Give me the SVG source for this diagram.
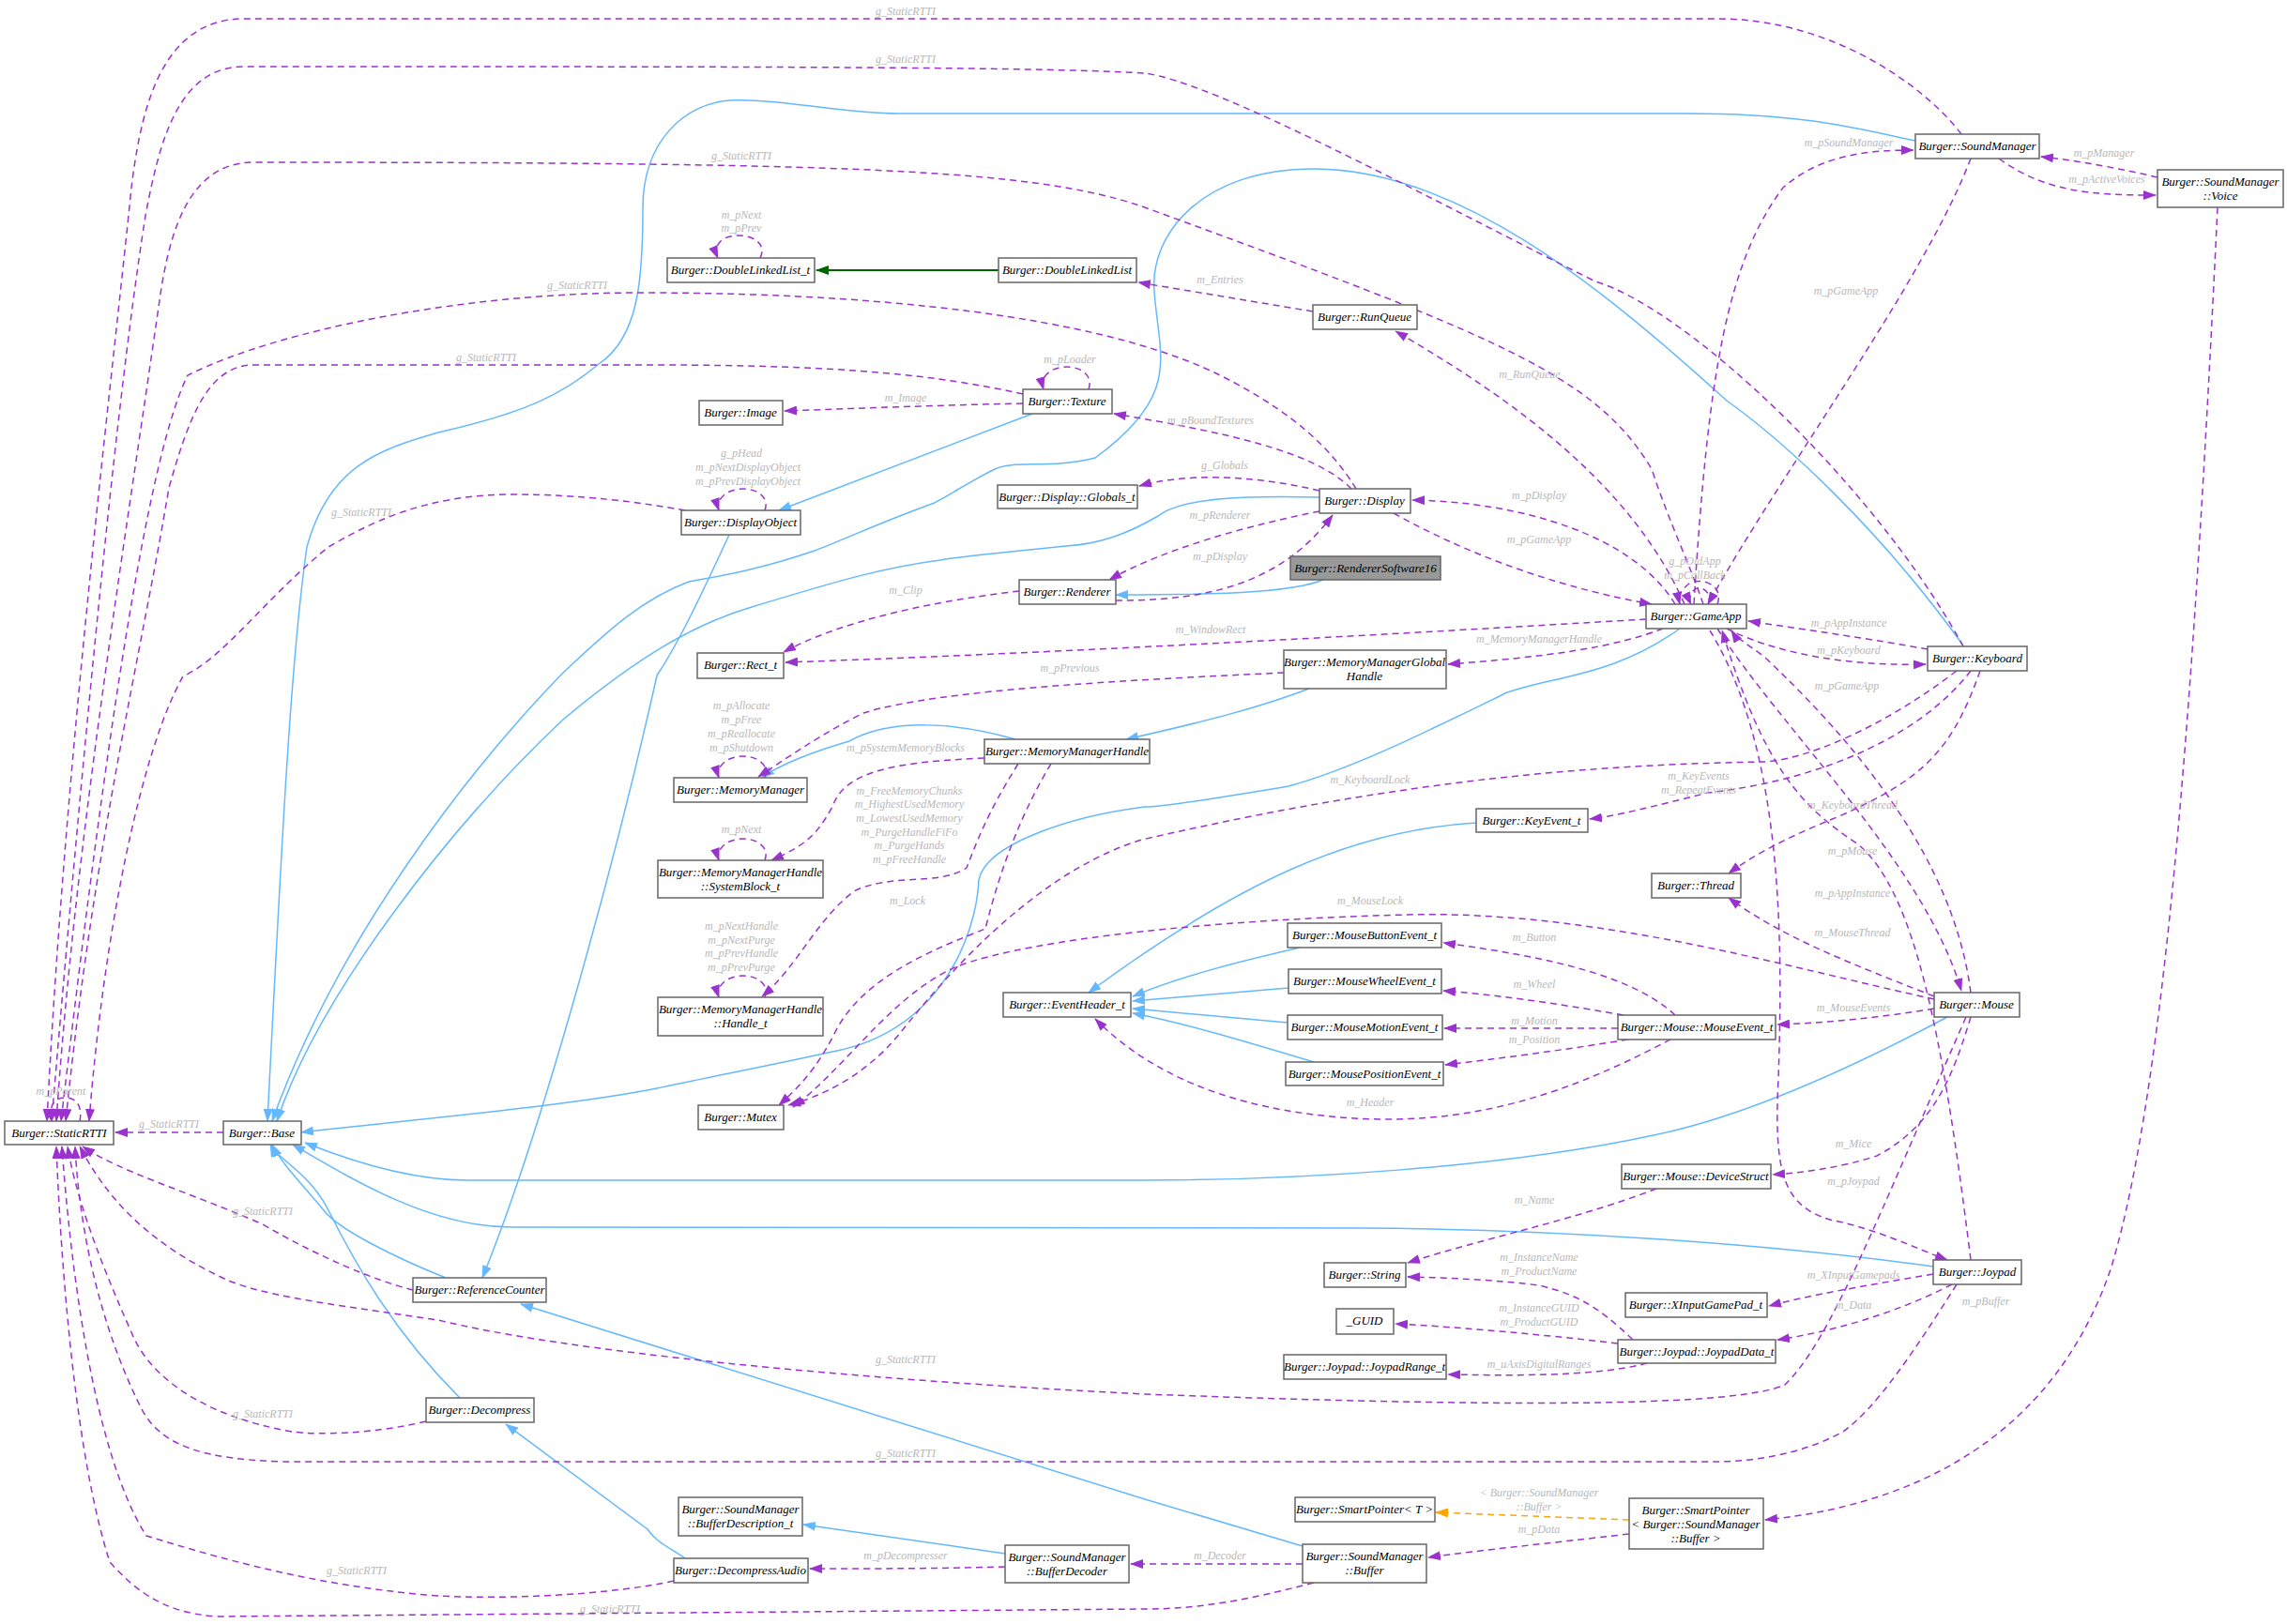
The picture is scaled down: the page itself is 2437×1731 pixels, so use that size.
<svg xmlns="http://www.w3.org/2000/svg" width="2437" height="1731" viewBox="0 0 2437 1731">
<style>
.n rect{fill:#fff;stroke:#666;stroke-width:1.5}
.n.g rect{fill:#999}
.n text{font-family:"Liberation Serif",serif;font-style:italic;font-size:13px;text-anchor:middle;fill:#000}
.l{font-family:"Liberation Serif",serif;font-style:italic;font-size:12px;text-anchor:middle;fill:#b8b8b8}
.p{fill:none;stroke:#9a32cd;stroke-width:1.5;stroke-dasharray:7,5;marker-end:url(#ap)}
.b{fill:none;stroke:#63b8ff;stroke-width:1.5;marker-end:url(#ab)}
.g2{fill:none;stroke:#006400;stroke-width:2;marker-end:url(#ag)}
.o{fill:none;stroke:#ffa500;stroke-width:1.5;stroke-dasharray:7,5;marker-end:url(#ao)}
</style>
<defs>
<marker id="ap" markerWidth="14" markerHeight="10" refX="13" refY="5" orient="auto" markerUnits="userSpaceOnUse"><path d="M0,0L14,5L0,10z" fill="#9a32cd"/></marker>
<marker id="ab" markerWidth="14" markerHeight="10" refX="13" refY="5" orient="auto" markerUnits="userSpaceOnUse"><path d="M0,0L14,5L0,10z" fill="#63b8ff"/></marker>
<marker id="ag" markerWidth="14" markerHeight="10" refX="13" refY="5" orient="auto" markerUnits="userSpaceOnUse"><path d="M0,0L14,5L0,10z" fill="#006400"/></marker>
<marker id="ao" markerWidth="14" markerHeight="10" refX="13" refY="5" orient="auto" markerUnits="userSpaceOnUse"><path d="M0,0L14,5L0,10z" fill="#ffa500"/></marker>
</defs>
<rect width="2437" height="1731" fill="#fff"/>
<g id="edges">
<path class="g2" d="M1064,288L870,288"/>
<path class="b" d="M2041,150C1990,140 1930,121 1800,121L957,121C900,121 830,105 778,107C730,110 685,150 685,222C685,300 680,360 638,388C600,420 560,440 467,461C400,480 350,499 327,583C310,700 300,900 285,1195"/>
<path class="b" d="M2092,688C2000,560 1900,470 1840,427C1700,300 1550,180 1400,180C1280,180 1225,250 1230,311C1235,380 1260,420 1167,488C1120,500 1080,490 1060,500C1030,515 1000,535 993,537C930,560 900,575 868,587C800,610 760,615 734,620C680,640 640,680 600,717C500,820 360,1000 290,1195"/>
<path class="b" d="M1406,530C1330,528 1260,530 1234,550C1200,570 1170,580 1136,582C1060,590 1030,592 1002,597C940,605 890,620 801,647C740,665 680,700 600,767C480,880 340,1060 295,1195"/>
<path class="b" d="M1790,670C1720,720 1660,720 1606,738C1520,780 1440,820 1373,838C1300,850 1240,860 1220,860C1140,870 1050,900 1043,938C1040,1000 1000,1100 887,1121C800,1140 750,1149 700,1160C600,1180 420,1195 321,1207"/>
<path class="b" d="M2075,1084C1970,1140 1860,1190 1762,1210C1600,1245 1380,1258 1217,1258L498,1258C440,1258 380,1240 325,1218"/>
<path class="b" d="M2060,1350C1880,1325 1650,1310 1450,1309L545,1308C460,1308 380,1260 312,1220"/>
<path class="b" d="M475,1362C420,1340 360,1310 345,1290C320,1260 300,1240 290,1220"/>
<path class="b" d="M490,1490C420,1420 380,1350 350,1290C330,1250 295,1235 288,1220"/>
<path class="b" d="M777,570C740,650 720,690 700,720C660,900 580,1200 514,1362"/>
<path class="b" d="M1100,441L830,544"/>
<path class="b" d="M1410,618C1380,630 1320,634 1189,634"/>
<path class="b" d="M1395,734C1340,755 1280,770 1200,788"/>
<path class="b" d="M1082,788C1020,770 950,765 905,790C870,800 830,815 812,829"/>
<path class="b" d="M1388,1648L1220,1598L555,1390"/>
<path class="b" d="M730,1661C715,1650 700,1645 690,1630L539,1518"/>
<path class="b" d="M1071,1656L856,1625"/>
<path class="b" d="M1573,877C1440,885 1320,940 1160,1058"/>
<path class="b" d="M1385,1010C1320,1025 1260,1040 1207,1062"/>
<path class="b" d="M1373,1053L1207,1067"/>
<path class="b" d="M1372,1090L1207,1075"/>
<path class="b" d="M1400,1132C1320,1108 1260,1090 1207,1080"/>
<path class="o" d="M1736,1620L1530,1612"/>
<path class="p" d="M2090,143C2050,90 1950,20 1830,20L260,20C170,20 150,120 140,200C120,400 70,800 50,1195"/>
<path class="p" d="M2092,689C2000,520 1800,330 1700,300C1500,200 1300,90 1220,78C1100,71 800,71 260,71C190,71 170,150 155,230C120,450 80,900 55,1195"/>
<path class="p" d="M1815,644C1800,600 1780,560 1760,500C1700,400 1600,360 1217,220C1100,180 900,173 270,173C200,173 180,250 170,320C130,600 80,900 60,1195"/>
<path class="p" d="M1445,521C1420,480 1380,440 1300,400C1200,350 1000,312 680,312C500,312 300,350 200,400C150,500 100,900 65,1195"/>
<path class="p" d="M1090,420C1000,400 900,389 700,389L270,389C220,389 200,450 180,520C150,700 100,900 70,1195"/>
<path class="p" d="M730,544C680,535 620,527 545,527C450,527 390,560 350,583C280,640 240,700 195,721C150,800 110,1000 95,1195"/>
<path class="p" d="M238,1207L123,1207"/>
<path class="p" d="M85,1195C88,1180 82,1170 70,1170C56,1170 52,1180 55,1195"/>
<path class="p" d="M440,1375C400,1365 340,1340 280,1305C200,1270 130,1250 88,1222"/>
<path class="p" d="M2095,1084C2000,1300 1950,1430 1902,1476C1850,1500 1600,1500 1220,1486C900,1470 600,1440 467,1407C350,1390 270,1380 233,1360C150,1320 110,1270 85,1222"/>
<path class="p" d="M2085,1369C2040,1440 2000,1500 1964,1526C1920,1550 1870,1558 1824,1558L1217,1558L300,1558C220,1555 171,1543 150,1500C110,1420 85,1320 80,1222"/>
<path class="p" d="M454,1515C400,1528 340,1530 311,1526C220,1510 160,1470 140,1420C100,1330 80,1270 72,1222"/>
<path class="p" d="M718,1685C650,1700 540,1705 467,1701C320,1690 200,1650 156,1637C100,1550 75,1350 66,1222"/>
<path class="p" d="M1400,1687C1330,1705 1280,1715 1220,1715L233,1723C170,1720 140,1690 117,1665C80,1550 65,1350 60,1222"/>
<path class="p" d="M810,275C820,255 790,245 770,255C762,262 762,268 765,275"/>
<path class="p" d="M815,544C822,525 795,515 775,525C765,532 764,538 766,544"/>
<path class="p" d="M1160,415C1167,395 1140,385 1120,395C1110,402 1110,408 1112,415"/>
<path class="p" d="M815,829C822,810 795,800 775,810C765,817 764,823 766,829"/>
<path class="p" d="M815,917C822,898 795,888 775,898C765,905 764,911 766,917"/>
<path class="p" d="M815,1063C822,1044 795,1034 775,1044C765,1051 764,1057 766,1063"/>
<path class="p" d="M1830,644C1838,622 1810,615 1800,622C1790,630 1788,636 1790,644"/>
<path class="p" d="M1820,644C1826,630 1810,622 1804,630C1800,635 1800,640 1802,644"/>
<path class="p" d="M1090,430C1000,432 920,435 836,438"/>
<path class="p" d="M1440,521C1400,480 1300,460 1187,441"/>
<path class="p" d="M1406,523C1330,505 1260,505 1214,518"/>
<path class="p" d="M1406,545C1330,560 1240,585 1182,618"/>
<path class="p" d="M1189,640C1270,640 1360,630 1420,549"/>
<path class="p" d="M1485,547C1580,600 1680,630 1760,644"/>
<path class="p" d="M1785,644C1740,570 1620,535 1505,533"/>
<path class="p" d="M1795,644C1740,520 1620,430 1487,353"/>
<path class="p" d="M1399,332L1213,301"/>
<path class="p" d="M1805,644C1820,400 1840,280 1900,200C1940,165 1990,160 2039,160"/>
<path class="p" d="M2100,169C2050,300 1900,500 1820,644"/>
<path class="p" d="M2130,169C2180,205 2230,208 2297,208"/>
<path class="p" d="M2299,189C2260,180 2220,172 2175,167"/>
<path class="p" d="M2363,221C2340,700 2310,1150 2250,1350C2200,1500 2080,1600 1881,1620"/>
<path class="p" d="M1754,660C1500,675 1150,695 837,706"/>
<path class="p" d="M1086,630C1000,640 900,660 835,695"/>
<path class="p" d="M1772,670C1720,690 1650,700 1543,708"/>
<path class="p" d="M1368,717C1200,725 1000,735 920,760C880,780 850,800 808,828"/>
<path class="p" d="M1049,808C960,812 900,820 887,860C870,890 860,900 822,917"/>
<path class="p" d="M1085,814C1050,870 1040,900 1030,925C1000,945 950,930 910,950C870,980 850,1030 812,1062"/>
<path class="p" d="M1120,814C1080,880 1060,950 1050,990C1000,1010 920,1040 890,1100C870,1140 850,1160 830,1178"/>
<path class="p" d="M2085,715C2000,780 1920,810 1880,812C1700,815 1500,830 1217,895C1100,930 1000,1050 960,1100C920,1150 870,1170 840,1178"/>
<path class="p" d="M2061,1065C1900,1030 1700,970 1500,975C1300,980 1100,1000 1020,1030C950,1060 900,1140 845,1180"/>
<path class="p" d="M1840,670C1900,700 1980,710 2052,708"/>
<path class="p" d="M2054,692C2000,682 1930,672 1863,662"/>
<path class="p" d="M2100,715C2050,780 1950,830 1820,845C1760,860 1720,870 1694,873"/>
<path class="p" d="M2110,715C2080,800 2050,830 1960,870C1910,890 1870,910 1842,931"/>
<path class="p" d="M1830,670C1900,780 2050,920 2090,1056"/>
<path class="p" d="M2100,1058C2090,980 2050,860 1880,700C1860,685 1850,680 1845,672"/>
<path class="p" d="M2100,1343C2070,1100 2040,950 1980,900C1920,860 1880,820 1835,672"/>
<path class="p" d="M1822,672C1900,800 1900,1000 1895,1150C1890,1250 1900,1285 1950,1300C2000,1310 2040,1330 2075,1343"/>
<path class="p" d="M2061,1062C1980,1030 1900,1000 1842,957"/>
<path class="p" d="M2061,1075C2000,1085 1950,1090 1894,1092"/>
<path class="p" d="M1785,1082C1740,1040 1650,1020 1538,1005"/>
<path class="p" d="M1730,1082C1650,1068 1590,1060 1538,1056"/>
<path class="p" d="M1724,1096L1539,1096"/>
<path class="p" d="M1735,1108C1660,1120 1600,1128 1540,1135"/>
<path class="p" d="M1780,1108C1700,1150 1600,1195 1470,1193C1330,1190 1230,1150 1167,1086"/>
<path class="p" d="M2100,1084C2080,1150 2060,1200 2000,1232C1960,1245 1920,1250 1889,1252"/>
<path class="p" d="M1765,1267C1680,1300 1580,1320 1500,1346"/>
<path class="p" d="M2060,1358C1990,1370 1930,1380 1885,1392"/>
<path class="p" d="M2080,1369C2020,1400 1950,1420 1894,1428"/>
<path class="p" d="M1740,1428C1700,1390 1680,1380 1640,1370C1600,1365 1550,1362 1500,1361"/>
<path class="p" d="M1724,1432C1640,1422 1560,1415 1487,1411"/>
<path class="p" d="M1755,1453C1700,1468 1600,1466 1543,1465"/>
<path class="p" d="M1736,1635C1650,1645 1580,1652 1522,1660"/>
<path class="p" d="M1388,1667L1205,1667"/>
<path class="p" d="M1071,1670C1000,1672 940,1672 863,1672"/>
</g>
<g id="labels">
<text class="l" x="965" y="16">g_StaticRTTI</text>
<text class="l" x="965" y="67">g_StaticRTTI</text>
<text class="l" x="790" y="170">g_StaticRTTI</text>
<text class="l" x="615" y="308">g_StaticRTTI</text>
<text class="l" x="518" y="385">g_StaticRTTI</text>
<text class="l" x="385" y="550">g_StaticRTTI</text>
<text class="l" x="180" y="1202">g_StaticRTTI</text>
<text class="l" x="65" y="1167">m_pParent</text>
<text class="l" x="280" y="1295">g_StaticRTTI</text>
<text class="l" x="965" y="1453">g_StaticRTTI</text>
<text class="l" x="965" y="1553">g_StaticRTTI</text>
<text class="l" x="280" y="1511">g_StaticRTTI</text>
<text class="l" x="380" y="1678">g_StaticRTTI</text>
<text class="l" x="650" y="1719">g_StaticRTTI</text>
<text class="l" x="790" y="233">m_pNext</text>
<text class="l" x="790" y="247">m_pPrev</text>
<text class="l" x="790" y="487">g_pHead</text>
<text class="l" x="797" y="502">m_pNextDisplayObject</text>
<text class="l" x="797" y="517">m_pPrevDisplayObject</text>
<text class="l" x="1140" y="387">m_pLoader</text>
<text class="l" x="965" y="428">m_Image</text>
<text class="l" x="1290" y="452">m_pBoundTextures</text>
<text class="l" x="1305" y="500">g_Globals</text>
<text class="l" x="1300" y="553">m_pRenderer</text>
<text class="l" x="1300" y="597">m_pDisplay</text>
<text class="l" x="1640" y="579">m_pGameApp</text>
<text class="l" x="1640" y="532">m_pDisplay</text>
<text class="l" x="1630" y="403">m_RunQueue</text>
<text class="l" x="1300" y="302">m_Entries</text>
<text class="l" x="1970" y="156">m_pSoundManager</text>
<text class="l" x="1967" y="314">m_pGameApp</text>
<text class="l" x="2245" y="195">m_pActiveVoices</text>
<text class="l" x="2242" y="167">m_pManager</text>
<text class="l" x="1806" y="602">g_pOldApp</text>
<text class="l" x="1806" y="617">m_pCallBack</text>
<text class="l" x="1290" y="675">m_WindowRect</text>
<text class="l" x="965" y="633">m_Clip</text>
<text class="l" x="1640" y="685">m_MemoryManagerHandle</text>
<text class="l" x="1140" y="716">m_pPrevious</text>
<text class="l" x="790" y="756">m_pAllocate</text>
<text class="l" x="790" y="771">m_pFree</text>
<text class="l" x="790" y="786">m_pReallocate</text>
<text class="l" x="790" y="801">m_pShutdown</text>
<text class="l" x="965" y="801">m_pSystemMemoryBlocks</text>
<text class="l" x="790" y="888">m_pNext</text>
<text class="l" x="969" y="847">m_FreeMemoryChunks</text>
<text class="l" x="969" y="861">m_HighestUsedMemory</text>
<text class="l" x="969" y="876">m_LowestUsedMemory</text>
<text class="l" x="969" y="891">m_PurgeHandleFiFo</text>
<text class="l" x="969" y="905">m_PurgeHands</text>
<text class="l" x="969" y="920">m_pFreeHandle</text>
<text class="l" x="967" y="964">m_Lock</text>
<text class="l" x="790" y="991">m_pNextHandle</text>
<text class="l" x="790" y="1006">m_pNextPurge</text>
<text class="l" x="790" y="1020">m_pPrevHandle</text>
<text class="l" x="790" y="1035">m_pPrevPurge</text>
<text class="l" x="1460" y="835">m_KeyboardLock</text>
<text class="l" x="1460" y="964">m_MouseLock</text>
<text class="l" x="1970" y="697">m_pKeyboard</text>
<text class="l" x="1970" y="668">m_pAppInstance</text>
<text class="l" x="1968" y="735">m_pGameApp</text>
<text class="l" x="1810" y="831">m_KeyEvents</text>
<text class="l" x="1810" y="846">m_RepeatEvents</text>
<text class="l" x="1974" y="862">m_KeyboardThread</text>
<text class="l" x="1974" y="911">m_pMouse</text>
<text class="l" x="1974" y="956">m_pAppInstance</text>
<text class="l" x="1974" y="998">m_MouseThread</text>
<text class="l" x="1975" y="1078">m_MouseEvents</text>
<text class="l" x="1635" y="1003">m_Button</text>
<text class="l" x="1635" y="1053">m_Wheel</text>
<text class="l" x="1635" y="1092">m_Motion</text>
<text class="l" x="1635" y="1112">m_Position</text>
<text class="l" x="1460" y="1179">m_Header</text>
<text class="l" x="1975" y="1223">m_Mice</text>
<text class="l" x="1635" y="1283">m_Name</text>
<text class="l" x="1975" y="1263">m_pJoypad</text>
<text class="l" x="1975" y="1363">m_XInputGamepads</text>
<text class="l" x="1975" y="1395">m_Data</text>
<text class="l" x="2116" y="1391">m_pBuffer</text>
<text class="l" x="1640" y="1344">m_InstanceName</text>
<text class="l" x="1640" y="1359">m_ProductName</text>
<text class="l" x="1640" y="1398">m_InstanceGUID</text>
<text class="l" x="1640" y="1413">m_ProductGUID</text>
<text class="l" x="1640" y="1458">m_uAxisDigitalRanges</text>
<text class="l" x="1640" y="1595">&lt; Burger::SoundManager</text>
<text class="l" x="1640" y="1610">::Buffer &gt;</text>
<text class="l" x="1640" y="1634">m_pData</text>
<text class="l" x="1300" y="1662">m_Decoder</text>
<text class="l" x="965" y="1662">m_pDecompresser</text>
</g>
<g id="n_StaticRTTI" class="n"><rect x="5" y="1195" width="116" height="25"/><text x="63" y="1212">Burger::StaticRTTI</text></g>
<g id="n_Base" class="n"><rect x="238" y="1195" width="83" height="25"/><text x="279" y="1212">Burger::Base</text></g>
<g id="n_DLL_t" class="n"><rect x="711" y="275" width="157" height="26"/><text x="789" y="292">Burger::DoubleLinkedList_t</text></g>
<g id="n_DLL" class="n"><rect x="1064" y="275" width="147" height="26"/><text x="1137" y="292">Burger::DoubleLinkedList</text></g>
<g id="n_Texture" class="n"><rect x="1090" y="415" width="95" height="26"/><text x="1137" y="432">Burger::Texture</text></g>
<g id="n_Image" class="n"><rect x="745" y="427" width="89" height="26"/><text x="789" y="444">Burger::Image</text></g>
<g id="n_Globals" class="n"><rect x="1063" y="517" width="149" height="25"/><text x="1137" y="534">Burger::Display::Globals_t</text></g>
<g id="n_DisplayObject" class="n"><rect x="726" y="544" width="127" height="26"/><text x="789" y="561">Burger::DisplayObject</text></g>
<g id="n_Renderer" class="n"><rect x="1086" y="618" width="103" height="26"/><text x="1137" y="635">Burger::Renderer</text></g>
<g id="n_Rect" class="n"><rect x="743" y="696" width="92" height="27"/><text x="789" y="713">Burger::Rect_t</text></g>
<g id="n_MemoryManager" class="n"><rect x="718" y="829" width="142" height="26"/><text x="789" y="846">Burger::MemoryManager</text></g>
<g id="n_MMH" class="n"><rect x="1049" y="788" width="176" height="26"/><text x="1137" y="805">Burger::MemoryManagerHandle</text></g>
<g id="n_SoundManager" class="n"><rect x="2041" y="143" width="132" height="26"/><text x="2107" y="160">Burger::SoundManager</text></g>
<g id="n_Voice" class="n"><rect x="2299" y="181" width="134" height="40"/><text x="2366" y="198">Burger::SoundManager</text><text x="2366" y="213">::Voice</text></g>
<g id="n_RunQueue" class="n"><rect x="1399" y="325" width="111" height="26"/><text x="1454" y="342">Burger::RunQueue</text></g>
<g id="n_Display" class="n"><rect x="1406" y="521" width="97" height="26"/><text x="1454" y="538">Burger::Display</text></g>
<g id="n_RendererSoftware16" class="n g"><rect x="1375" y="593" width="160" height="25"/><text x="1455" y="610">Burger::RendererSoftware16</text></g>
<g id="n_GameApp" class="n"><rect x="1754" y="644" width="107" height="26"/><text x="1807" y="661">Burger::GameApp</text></g>
<g id="n_MMGH" class="n"><rect x="1368" y="693" width="173" height="41"/><text x="1454" y="710">Burger::MemoryManagerGlobal</text><text x="1454" y="725">Handle</text></g>
<g id="n_Keyboard" class="n"><rect x="2054" y="689" width="106" height="26"/><text x="2107" y="706">Burger::Keyboard</text></g>
<g id="n_KeyEvent" class="n"><rect x="1573" y="862" width="119" height="25"/><text x="1632" y="879">Burger::KeyEvent_t</text></g>
<g id="n_Thread" class="n"><rect x="1760" y="931" width="95" height="26"/><text x="1807" y="948">Burger::Thread</text></g>
<g id="n_MBE" class="n"><rect x="1372" y="984" width="164" height="26"/><text x="1454" y="1001">Burger::MouseButtonEvent_t</text></g>
<g id="n_MWE" class="n"><rect x="1373" y="1033" width="163" height="26"/><text x="1454" y="1050">Burger::MouseWheelEvent_t</text></g>
<g id="n_MME" class="n"><rect x="1372" y="1082" width="165" height="26"/><text x="1454" y="1099">Burger::MouseMotionEvent_t</text></g>
<g id="n_MPE" class="n"><rect x="1370" y="1132" width="168" height="25"/><text x="1454" y="1149">Burger::MousePositionEvent_t</text></g>
<g id="n_MouseEvent" class="n"><rect x="1724" y="1082" width="168" height="26"/><text x="1808" y="1099">Burger::Mouse::MouseEvent_t</text></g>
<g id="n_Mouse" class="n"><rect x="2061" y="1058" width="91" height="26"/><text x="2106" y="1075">Burger::Mouse</text></g>
<g id="n_DeviceStruct" class="n"><rect x="1728" y="1241" width="159" height="26"/><text x="1807" y="1258">Burger::Mouse::DeviceStruct</text></g>
<g id="n_String" class="n"><rect x="1411" y="1346" width="87" height="26"/><text x="1454" y="1363">Burger::String</text></g>
<g id="n_Joypad" class="n"><rect x="2060" y="1343" width="94" height="26"/><text x="2107" y="1360">Burger::Joypad</text></g>
<g id="n_XInput" class="n"><rect x="1732" y="1378" width="151" height="26"/><text x="1807" y="1395">Burger::XInputGamePad_t</text></g>
<g id="n_GUID" class="n"><rect x="1424" y="1395" width="61" height="27"/><text x="1454" y="1412">_GUID</text></g>
<g id="n_JoypadData" class="n"><rect x="1724" y="1428" width="168" height="25"/><text x="1808" y="1445">Burger::Joypad::JoypadData_t</text></g>
<g id="n_JoypadRange" class="n"><rect x="1368" y="1444" width="173" height="26"/><text x="1454" y="1461">Burger::Joypad::JoypadRange_t</text></g>
<g id="n_SPT" class="n"><rect x="1380" y="1596" width="149" height="26"/><text x="1454" y="1613">Burger::SmartPointer&lt; T &gt;</text></g>
<g id="n_SPB" class="n"><rect x="1736" y="1597" width="143" height="54"/><text x="1807" y="1614">Burger::SmartPointer</text><text x="1807" y="1629">&lt; Burger::SoundManager</text><text x="1807" y="1644">::Buffer &gt;</text></g>
<g id="n_Buffer" class="n"><rect x="1388" y="1646" width="132" height="41"/><text x="1454" y="1663">Burger::SoundManager</text><text x="1454" y="1678">::Buffer</text></g>
<g id="n_SystemBlock" class="n"><rect x="701" y="917" width="176" height="40"/><text x="789" y="934">Burger::MemoryManagerHandle</text><text x="789" y="949">::SystemBlock_t</text></g>
<g id="n_Handle" class="n"><rect x="701" y="1063" width="176" height="41"/><text x="789" y="1080">Burger::MemoryManagerHandle</text><text x="789" y="1095">::Handle_t</text></g>
<g id="n_EventHeader" class="n"><rect x="1069" y="1058" width="136" height="26"/><text x="1137" y="1075">Burger::EventHeader_t</text></g>
<g id="n_Mutex" class="n"><rect x="744" y="1178" width="91" height="26"/><text x="789" y="1195">Burger::Mutex</text></g>
<g id="n_RefCounter" class="n"><rect x="440" y="1362" width="142" height="26"/><text x="511" y="1379">Burger::ReferenceCounter</text></g>
<g id="n_Decompress" class="n"><rect x="454" y="1490" width="115" height="26"/><text x="511" y="1507">Burger::Decompress</text></g>
<g id="n_BufferDesc" class="n"><rect x="723" y="1596" width="132" height="41"/><text x="789" y="1613">Burger::SoundManager</text><text x="789" y="1628">::BufferDescription_t</text></g>
<g id="n_DecompressAudio" class="n"><rect x="718" y="1661" width="143" height="26"/><text x="789" y="1678">Burger::DecompressAudio</text></g>
<g id="n_BufferDecoder" class="n"><rect x="1071" y="1647" width="132" height="40"/><text x="1137" y="1664">Burger::SoundManager</text><text x="1137" y="1679">::BufferDecoder</text></g>
</svg>
